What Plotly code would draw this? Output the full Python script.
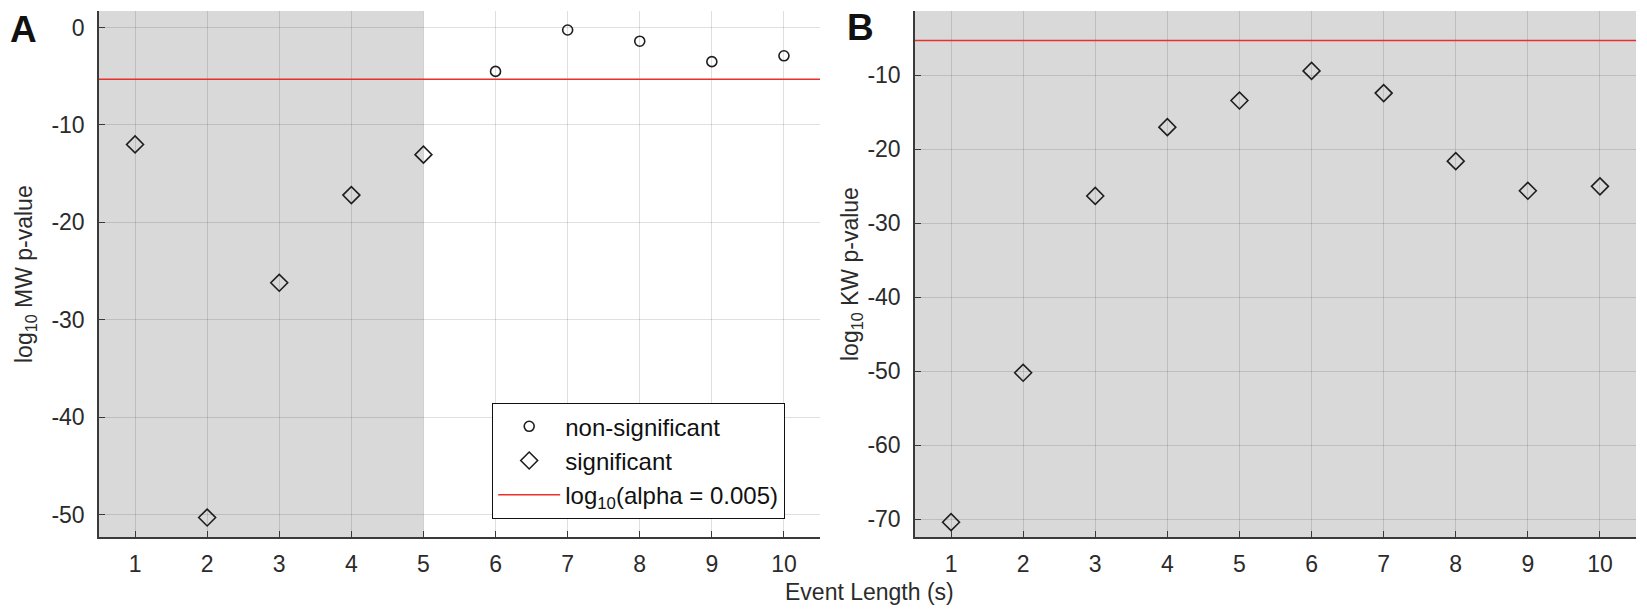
import plotly.graph_objects as go

# event lengths (s) shared by both panels
event_length = [1, 2, 3, 4, 5, 6, 7, 8, 9, 10]

# panel A: log10 Mann-Whitney p-values
mw_log_p = [-12.0, -50.3, -26.2, -17.2, -13.05, -4.5, -0.25, -1.4, -3.5, -2.9]
# panel B: log10 Kruskal-Wallis p-values
kw_log_p = [-70.4, -50.2, -26.3, -17.0, -13.4, -9.4, -12.4, -21.6, -25.6, -25.0]

alpha_log = -5.3  # threshold line drawn in both panels
shaded_until_a = 5  # grey region of panel A ends here

mw_ticks = [0, -10, -20, -30, -40, -50]
kw_ticks = [-10, -20, -30, -40, -50, -60, -70]

# page is 1647x615; the html body has an 8px margin, so the figure is
# made smaller and all page positions are shifted by that margin
PAGE_W, PAGE_H, OFF = 1647, 615, 8
W, H = PAGE_W - 2 * OFF, PAGE_H - 2 * OFF
FONT = "Liberation Sans, Arial, sans-serif"
TXT = "#2b2b2b"
GREY_BG = "#d9d9d9"
GRID = "rgba(38,38,38,0.15)"
MARK = "#1e1e1e"
FS = 23


def px_x(p):
    return (p - OFF) / W


def px_y(p):
    return 1 - (p - OFF) / H


x_lo, x_hi = event_length[0] - 0.5, event_length[-1] + 0.5

fig = go.Figure()


def add_panel(values, xa, ya, show_legend):
    sig_x = [x for x, v in zip(event_length, values) if v < alpha_log]
    sig_y = [v for v in values if v < alpha_log]
    ns_x = [x for x, v in zip(event_length, values) if v >= alpha_log]
    ns_y = [v for v in values if v >= alpha_log]
    fig.add_trace(go.Scatter(
        x=ns_x, y=ns_y, mode="markers", name="non-significant",
        marker=dict(symbol="circle-open", size=10, color=MARK, line=dict(width=1.6)),
        xaxis=xa, yaxis=ya, showlegend=show_legend, legendrank=1))
    fig.add_trace(go.Scatter(
        x=sig_x, y=sig_y, mode="markers", name="significant",
        marker=dict(symbol="diamond-open", size=13, color=MARK, line=dict(width=1.6)),
        xaxis=xa, yaxis=ya, showlegend=show_legend, legendrank=2))
    fig.add_trace(go.Scatter(
        x=[x_lo, x_hi], y=[alpha_log, alpha_log], mode="lines",
        name="log<sub>10</sub>(alpha = 0.005)",
        line=dict(color="#e8312f", width=1.5),
        xaxis=xa, yaxis=ya, showlegend=show_legend, legendrank=3))


add_panel(mw_log_p, "x", "y", True)
add_panel(kw_log_p, "x2", "y2", False)

axis_common = dict(
    showgrid=True, gridcolor=GRID, gridwidth=1,
    showline=True, linecolor="#3a3a3a", linewidth=1.5,
    ticks="inside", ticklen=6, tickcolor="#3a3a3a",
    zeroline=False, mirror=False,
    tickfont=dict(family=FONT, size=FS, color=TXT),
)

ydom = [px_y(537), px_y(11)]
xtick = dict(tickvals=event_length, ticktext=[str(v) for v in event_length],
             ticklabelstandoff=6)
fig.update_layout(
    width=W, height=H,
    margin=dict(l=0, r=0, t=0, b=0),
    paper_bgcolor="white", plot_bgcolor="white",
    xaxis=dict(domain=[px_x(99), px_x(820)], range=[x_lo, x_hi],
               anchor="y", **xtick, **axis_common),
    yaxis=dict(domain=ydom, range=[-52.3, 1.7], tickvals=mw_ticks,
               ticktext=[str(v) for v in mw_ticks], ticklabelstandoff=8,
               anchor="x", **axis_common),
    xaxis2=dict(domain=[px_x(915), px_x(1636)], range=[x_lo, x_hi],
                anchor="y2", **xtick, **axis_common),
    yaxis2=dict(domain=ydom, range=[-72.4, -1.3], tickvals=kw_ticks,
                ticktext=[str(v) for v in kw_ticks], ticklabelstandoff=8,
                anchor="x2", **axis_common),
    showlegend=True,
    legend=dict(
        x=px_x(785), y=px_y(403), xanchor="right", yanchor="top",
        bgcolor="white", bordercolor="#111", borderwidth=1.2,
        font=dict(family=FONT, size=24, color="#111"),
        itemwidth=62, tracegroupgap=0,
    ),
)

# grey backgrounds: panel A only up to the 5 s gridline, panel B full
fig.add_shape(type="rect", xref="x", yref="y domain", x0=x_lo, x1=shaded_until_a,
              y0=0, y1=1, fillcolor=GREY_BG, line_width=0, layer="below")
fig.add_shape(type="rect", xref="x2 domain", yref="y2 domain", x0=0, x1=1,
              y0=0, y1=1, fillcolor=GREY_BG, line_width=0, layer="below")

annos = [
    dict(text="<b>A</b>", x=px_x(8), y=px_y(7), xanchor="left", yanchor="top",
         font=dict(family=FONT, size=37, color="#111")),
    dict(text="<b>B</b>", x=px_x(845), y=px_y(5), xanchor="left", yanchor="top",
         font=dict(family=FONT, size=37, color="#111")),
    dict(text="Event Length (s)", x=px_x(869), y=px_y(592), xanchor="center",
         yanchor="middle", font=dict(family=FONT, size=FS, color=TXT)),
    dict(text="log<sub>10</sub> MW p-value", x=px_x(25), y=px_y(274), textangle=-90,
         xanchor="center", yanchor="middle", font=dict(family=FONT, size=FS, color=TXT)),
    dict(text="log<sub>10</sub> KW p-value", x=px_x(851), y=px_y(274), textangle=-90,
         xanchor="center", yanchor="middle", font=dict(family=FONT, size=FS, color=TXT)),
]
for a in annos:
    fig.add_annotation(xref="paper", yref="paper", showarrow=False, **a)

fig.write_html("out.html")
